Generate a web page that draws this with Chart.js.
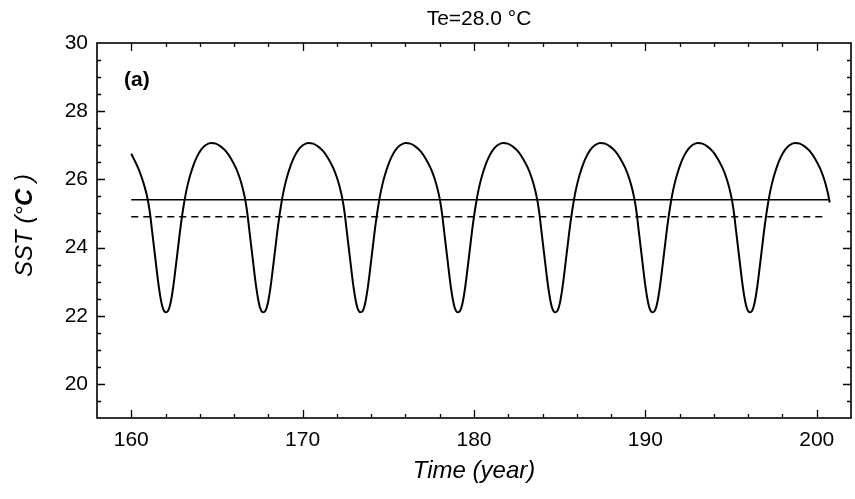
<!DOCTYPE html>
<html>
<head>
<meta charset="utf-8">
<script src="https://cdn.jsdelivr.net/npm/chart.js@4.4.0/dist/chart.umd.min.js"></script>
<style>
    html, body { margin: 0; padding: 0; background: #fff; }
</style>
</head>
<body>
<canvas id="chart-sst" width="855" height="499"></canvas>
<script>
'use strict';

// SST curve (one row per half oscillation)
const years = [
    160.00, 160.15, 160.43, 160.63, 160.78, 160.90, 161.00, 161.10, 161.20, 161.30, 161.43, 161.53, 161.63, 161.73, 161.83, 161.93,
    162.03, 162.13, 162.23, 162.33, 162.43, 162.53, 162.63, 162.76, 162.86, 162.98, 163.08, 163.18, 163.30, 163.45, 163.63, 163.83, 164.08, 164.33, 164.63,
    164.93, 165.23, 165.53, 165.83, 166.11, 166.31, 166.46, 166.58, 166.68, 166.78, 166.88, 166.98, 167.11, 167.21, 167.31, 167.41, 167.51, 167.61,
    167.71, 167.81, 167.91, 168.01, 168.11, 168.21, 168.31, 168.44, 168.54, 168.66, 168.76, 168.86, 168.98, 169.13, 169.31, 169.51, 169.76, 170.01, 170.31,
    170.61, 170.91, 171.21, 171.51, 171.79, 171.99, 172.14, 172.26, 172.36, 172.46, 172.56, 172.66, 172.79, 172.89, 172.99, 173.09, 173.19, 173.29,
    173.39, 173.49, 173.59, 173.69, 173.79, 173.89, 173.99, 174.12, 174.22, 174.34, 174.44, 174.54, 174.66, 174.81, 174.99, 175.19, 175.44, 175.69, 175.99,
    176.29, 176.59, 176.89, 177.19, 177.47, 177.67, 177.82, 177.94, 178.04, 178.14, 178.24, 178.34, 178.47, 178.57, 178.67, 178.77, 178.87, 178.97,
    179.07, 179.17, 179.27, 179.37, 179.47, 179.57, 179.67, 179.80, 179.90, 180.02, 180.12, 180.22, 180.34, 180.49, 180.67, 180.87, 181.12, 181.37, 181.67,
    181.97, 182.27, 182.57, 182.87, 183.15, 183.35, 183.50, 183.62, 183.72, 183.82, 183.92, 184.02, 184.15, 184.25, 184.35, 184.45, 184.55, 184.65,
    184.75, 184.85, 184.95, 185.05, 185.15, 185.25, 185.35, 185.48, 185.58, 185.70, 185.80, 185.90, 186.02, 186.17, 186.35, 186.55, 186.80, 187.05, 187.35,
    187.65, 187.95, 188.25, 188.55, 188.83, 189.03, 189.18, 189.30, 189.40, 189.50, 189.60, 189.70, 189.83, 189.93, 190.03, 190.13, 190.23, 190.33,
    190.43, 190.53, 190.63, 190.73, 190.83, 190.93, 191.03, 191.16, 191.26, 191.38, 191.48, 191.58, 191.70, 191.85, 192.03, 192.23, 192.48, 192.73, 193.03,
    193.33, 193.63, 193.93, 194.23, 194.51, 194.71, 194.86, 194.98, 195.08, 195.18, 195.28, 195.38, 195.51, 195.61, 195.71, 195.81, 195.91, 196.01,
    196.11, 196.21, 196.31, 196.41, 196.51, 196.61, 196.71, 196.84, 196.94, 197.06, 197.16, 197.26, 197.38, 197.53, 197.71, 197.91, 198.16, 198.41, 198.71,
    199.01, 199.31, 199.61, 199.91, 200.19, 200.39, 200.54, 200.66, 200.76
];
const sst = [
    26.75, 26.60, 26.30, 26.02, 25.78, 25.55, 25.30, 24.98, 24.55, 24.12, 23.57, 23.15, 22.77, 22.46, 22.24, 22.13,
    22.10, 22.13, 22.25, 22.47, 22.78, 23.16, 23.58, 24.12, 24.54, 24.98, 25.30, 25.58, 25.86, 26.14, 26.42, 26.66, 26.87, 27.00, 27.07,
    27.05, 26.96, 26.82, 26.60, 26.33, 26.07, 25.82, 25.57, 25.32, 24.98, 24.55, 24.12, 23.57, 23.15, 22.77, 22.46, 22.24, 22.13,
    22.10, 22.13, 22.25, 22.47, 22.78, 23.16, 23.58, 24.12, 24.54, 24.98, 25.30, 25.58, 25.86, 26.14, 26.42, 26.66, 26.87, 27.00, 27.07,
    27.05, 26.96, 26.82, 26.60, 26.33, 26.07, 25.82, 25.57, 25.32, 24.98, 24.55, 24.12, 23.57, 23.15, 22.77, 22.46, 22.24, 22.13,
    22.10, 22.13, 22.25, 22.47, 22.78, 23.16, 23.58, 24.12, 24.54, 24.98, 25.30, 25.58, 25.86, 26.14, 26.42, 26.66, 26.87, 27.00, 27.07,
    27.05, 26.96, 26.82, 26.60, 26.33, 26.07, 25.82, 25.57, 25.32, 24.98, 24.55, 24.12, 23.57, 23.15, 22.77, 22.46, 22.24, 22.13,
    22.10, 22.13, 22.25, 22.47, 22.78, 23.16, 23.58, 24.12, 24.54, 24.98, 25.30, 25.58, 25.86, 26.14, 26.42, 26.66, 26.87, 27.00, 27.07,
    27.05, 26.96, 26.82, 26.60, 26.33, 26.07, 25.82, 25.57, 25.32, 24.98, 24.55, 24.12, 23.57, 23.15, 22.77, 22.46, 22.24, 22.13,
    22.10, 22.13, 22.25, 22.47, 22.78, 23.16, 23.58, 24.12, 24.54, 24.98, 25.30, 25.58, 25.86, 26.14, 26.42, 26.66, 26.87, 27.00, 27.07,
    27.05, 26.96, 26.82, 26.60, 26.33, 26.07, 25.82, 25.57, 25.32, 24.98, 24.55, 24.12, 23.57, 23.15, 22.77, 22.46, 22.24, 22.13,
    22.10, 22.13, 22.25, 22.47, 22.78, 23.16, 23.58, 24.12, 24.54, 24.98, 25.30, 25.58, 25.86, 26.14, 26.42, 26.66, 26.87, 27.00, 27.07,
    27.05, 26.96, 26.82, 26.60, 26.33, 26.07, 25.82, 25.57, 25.32, 24.98, 24.55, 24.12, 23.57, 23.15, 22.77, 22.46, 22.24, 22.13,
    22.10, 22.13, 22.25, 22.47, 22.78, 23.16, 23.58, 24.12, 24.54, 24.98, 25.30, 25.58, 25.86, 26.14, 26.42, 26.66, 26.87, 27.00, 27.07,
    27.05, 26.96, 26.82, 26.60, 26.33, 26.07, 25.82, 25.57, 25.32
];

// the two flat lines
const meanX = [160, 200.7];
const meanY = [25.4, 25.4];
const dashX = [160, 200.6];
const dashY = [24.9, 24.9];

const xTickValues = [160, 170, 180, 190, 200];
const yTickValues = [20, 22, 24, 26, 28, 30];

const FONT = "'Liberation Sans', Arial, Helvetica, sans-serif";

function toPoints(xs, ys) {
    return xs.map((x, i) => ({x: x, y: ys[i]}));
}

/**
 * Box round the plot with inward ticks on all four sides,
 * the way the original plotting program draws them.
 */
const framePlugin = {
    id: 'frame',
    afterDatasetsDraw(chart) {
        const {ctx, chartArea: a, scales: {x, y}} = chart;
        ctx.save();
        ctx.strokeStyle = '#000';
        ctx.lineWidth = 1.3;
        ctx.beginPath();
        for (let v = 160; v <= 200; v += 2) {
            const px = Math.round(x.getPixelForValue(v)) + 0.5;
            const len = v % 10 === 0 ? 8 : 4;
            ctx.moveTo(px, a.bottom);
            ctx.lineTo(px, a.bottom - len);
            ctx.moveTo(px, a.top);
            ctx.lineTo(px, a.top + len);
        }
        for (let i = 39; i < 60; i++) {
            const v = i / 2;
            const py = Math.round(y.getPixelForValue(v)) + 0.5;
            const len = v % 2 === 0 ? 8 : 4;
            ctx.moveTo(a.left, py);
            ctx.lineTo(a.left + len, py);
            ctx.moveTo(a.right, py);
            ctx.lineTo(a.right - len, py);
        }
        ctx.stroke();
        ctx.lineWidth = 1.6;
        ctx.strokeRect(a.left, a.top, a.right - a.left, a.bottom - a.top);
        ctx.restore();
    }
};

const textPlugin = {
    id: 'texts',
    afterDraw(chart) {
        const {ctx, chartArea: a} = chart;
        ctx.save();
        ctx.fillStyle = '#000';

        // title
        ctx.font = `21px ${FONT}`;
        ctx.textAlign = 'center';
        ctx.textBaseline = 'alphabetic';
        ctx.fillText('Te=28.0 \u00B0C', 479, 25);

        // panel label
        ctx.font = `bold 21px ${FONT}`;
        ctx.textAlign = 'left';
        ctx.textBaseline = 'middle';
        ctx.fillText('(a)', 124, 80);

        // x title
        ctx.font = `italic 24px ${FONT}`;
        ctx.textAlign = 'center';
        ctx.fillText('Time (year)', (a.left + a.right) / 2, 471);

        // y title, C in bold
        const parts = [
            ['SST (\u00B0', `italic 24px ${FONT}`],
            ['C', `italic bold 24px ${FONT}`],
            [' )', `italic 24px ${FONT}`]
        ];
        let total = 0;
        parts.forEach(p => {
            ctx.font = p[1];
            total += ctx.measureText(p[0]).width;
        });
        ctx.translate(32, (a.top + a.bottom) / 2 - 5);
        ctx.rotate(-Math.PI / 2);
        ctx.textAlign = 'left';
        ctx.textBaseline = 'alphabetic';
        let pos = -total / 2;
        parts.forEach(p => {
            ctx.font = p[1];
            ctx.fillText(p[0], pos, 0);
            pos += ctx.measureText(p[0]).width;
        });
        ctx.restore();
    }
};

(function initChart() {
    const canvas = document.getElementById('chart-sst');
    const tickFont = {family: FONT, size: 21};

    new Chart(canvas.getContext('2d'), {
        type: 'line',
        data: {
            datasets: [{
                data: toPoints(years, sst),
                borderColor: '#000',
                borderWidth: 2,
                pointRadius: 0,
                cubicInterpolationMode: 'monotone',
                fill: false
            }, {
                data: toPoints(meanX, meanY),
                borderColor: '#000',
                borderWidth: 1.5,
                pointRadius: 0,
                fill: false
            }, {
                data: toPoints(dashX, dashY),
                borderColor: '#000',
                borderWidth: 1.5,
                borderDash: [7, 5],
                pointRadius: 0,
                fill: false
            }]
        },
        options: {
            responsive: false,
            animation: false,
            events: [],
            layout: {padding: {top: 43, right: 4, left: 0, bottom: 0}},
            plugins: {
                legend: {display: false},
                tooltip: {enabled: false}
            },
            scales: {
                x: {
                    type: 'linear',
                    min: 158,
                    max: 202,
                    grid: {display: false, drawTicks: false},
                    border: {display: false},
                    ticks: {color: '#000', font: tickFont, padding: 10},
                    afterBuildTicks: s => { s.ticks = xTickValues.map(v => ({value: v})); },
                    afterFit: s => { s.height = 81; }
                },
                y: {
                    type: 'linear',
                    min: 19,
                    max: 30,
                    grid: {display: false, drawTicks: false},
                    border: {display: false},
                    ticks: {color: '#000', font: tickFont, padding: 9},
                    afterBuildTicks: s => { s.ticks = yTickValues.map(v => ({value: v})); },
                    afterFit: s => { s.width = 97; }
                }
            }
        },
        plugins: [framePlugin, textPlugin]
    });
})();
</script>
</body>
</html>
